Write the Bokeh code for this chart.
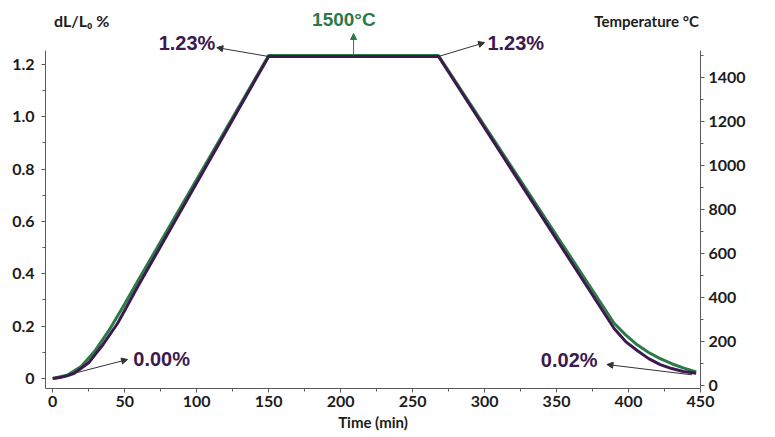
from bokeh.plotting import figure
from bokeh.layouts import column
from bokeh.models import (Range1d, LinearAxis, FixedTicker, PrintfTickFormatter,
                          Label, Arrow, NormalHead)
from bokeh.embed import file_html
from bokeh.resources import INLINE

# --- dilatometer run: linear change dL/L0 (%) and furnace temperature ---
time_dl = [0, 5, 10, 15, 20, 25, 30, 35, 40, 45, 50, 55, 60, 150,
           268, 390, 398, 406, 414, 422, 430, 438, 447]
dl_pct = [0.00, 0.004, 0.01, 0.02, 0.04, 0.06, 0.095, 0.13, 0.17, 0.21, 0.26, 0.31, 0.36, 1.23,
          1.23, 0.191, 0.141, 0.107, 0.076, 0.053, 0.038, 0.027, 0.02]

time_temp = [0, 10, 20, 30, 40, 50, 60, 150,
             268, 390, 398, 406, 414, 422, 430, 438, 447]
temp_c = [32, 47, 88, 163, 260, 370, 485, 1500,
          1500, 283, 230, 185, 150, 122, 99, 80, 62]

x_ticks = [0, 50, 100, 150, 200, 250, 300, 350, 400, 450]
dl_ticks = [0, 0.2, 0.4, 0.6, 0.8, 1.0, 1.2]
temp_ticks = [0, 200, 400, 600, 800, 1000, 1200, 1400]

dl_peak = 1.23
dl_start = 0.00
dl_end = 0.02
temp_peak = 1500
heat_end, cool_start = 150, 268

PURPLE = "#3d1a4e"
GREEN = "#2c7a47"
INK = "#1c1c1c"
AXIS = "#5a5a5a"
FONT = "Lato"
CALLOUT_FONT = "Liberation Sans"

# axis extents (the frame runs a little higher so the callouts fit inside it)
DL_LO, DL_HI, DL_TOP = -0.0382, 1.2529, 1.3293
T_LO, T_HI, T_TOP = -13.6, 1522.7, 1613.6

p = figure(width=775, height=407, x_range=Range1d(-5, 450), y_range=Range1d(DL_LO, DL_TOP),
           output_backend="svg", toolbar_location=None,
           min_border_left=45, min_border_right=75, min_border_top=0, min_border_bottom=49)
p.extra_y_ranges = {"temp": Range1d(T_LO, T_TOP)}
p.outline_line_color = None
p.xgrid.visible = False
p.ygrid.visible = False


def style_axis(ax):
    ax.axis_line_color = AXIS
    ax.axis_line_width = 1
    ax.major_tick_line_color = AXIS
    ax.minor_tick_line_color = AXIS
    ax.major_tick_in = 0
    ax.major_tick_out = 4
    ax.minor_tick_in = 0
    ax.minor_tick_out = 3
    ax.major_label_text_font = FONT
    ax.major_label_text_font_style = "bold"
    ax.major_label_text_font_size = "16px"
    ax.major_label_text_color = INK


# bottom axis: time
xa = p.xaxis[0]
xa.ticker = FixedTicker(ticks=x_ticks, minor_ticks=[v + 25 for v in x_ticks[:-1]])
style_axis(xa)
xa.major_label_standoff = 3
xa.axis_label = "Time (min)"
xa.axis_label_text_font = FONT
xa.axis_label_text_font_style = "bold"
xa.axis_label_text_font_size = "15px"
xa.axis_label_text_color = INK
xa.axis_label_standoff = 3

# left axis: dL/L0
ya = p.yaxis[0]
ya.bounds = (DL_LO, DL_HI)
ya.ticker = FixedTicker(ticks=dl_ticks, minor_ticks=[round(0.1 * i, 1) for i in range(13)])
ya.formatter = PrintfTickFormatter(format="%.1f")
ya.major_label_overrides = {0: "0"}
style_axis(ya)
ya.major_label_standoff = 7

# right axis: temperature
ta = LinearAxis(y_range_name="temp", bounds=(T_LO, T_HI),
                ticker=FixedTicker(ticks=temp_ticks, minor_ticks=list(range(0, 1600, 100))))
style_axis(ta)
ta.major_label_standoff = 4
p.add_layout(ta, "right")

# curves
p.line(time_temp, temp_c, y_range_name="temp", line_color=GREEN, line_width=3)
p.line(time_dl, dl_pct, line_color=PURPLE, line_width=3)


def pointer(x0, y0, x1, y1, range_name="default", color="#333333"):
    p.add_layout(Arrow(x_start=x0, y_start=y0, x_end=x1, y_end=y1, y_range_name=range_name,
                       line_color=color, line_width=1,
                       end=NormalHead(size=6, fill_color=color, line_color=color)))


def value_label(fig, x, y, text, align, color=PURPLE, range_name="default", size="20px",
                font=CALLOUT_FONT):
    fig.add_layout(Label(x=x, y=y, text=text, text_align=align, text_baseline="middle",
                         y_range_name=range_name, text_font=font,
                         text_font_style="bold", text_font_size=size, text_color=color))


# peak expansion at start and end of the dwell
pointer(heat_end, dl_peak, 114, 1.264)
value_label(p, 113, 1.283, f"{dl_peak:.2f}%", "right")
pointer(cool_start, dl_peak, 300, 1.283)
value_label(p, 302, 1.283, f"{dl_peak:.2f}%", "left")

# dwell temperature marker
mid = (heat_end + cool_start) / 2
pointer(mid, temp_peak, mid, 1600, range_name="temp", color=GREEN)

# start and residual values
pointer(time_dl[3], dl_pct[3], 52, 0.0726)
value_label(p, 56, 0.0726, f"{dl_start:.2f}%", "left")
pointer(time_dl[-1] - 3, dl_end - 0.006, 385, 0.0535)
value_label(p, 378.5, 0.069, f"{dl_end:.2f}%", "right")

# heading strip: axis titles and the dwell temperature, in pixel coordinates
head = figure(width=775, height=30, x_range=Range1d(0, 775), y_range=Range1d(30, 0),
              output_backend="svg", toolbar_location=None, min_border=0,
              x_axis_type=None, y_axis_type=None)
head.outline_line_color = None
head.xgrid.visible = False
head.ygrid.visible = False
mid_px = 45 + (mid + 5) * 655 / 455
value_label(head, 10, 20, "dL/L₀ %", "left", color=INK, size="16px", font=FONT)
value_label(head, 773, 20, "Temperature °C", "right", color=INK, size="15px", font=FONT)
value_label(head, mid_px, 19, f"{temp_peak}°C", "center", color=GREEN, size="19px")

layout = column(head, p, spacing=0)
open("out.html", "w").write(file_html(layout, INLINE))
